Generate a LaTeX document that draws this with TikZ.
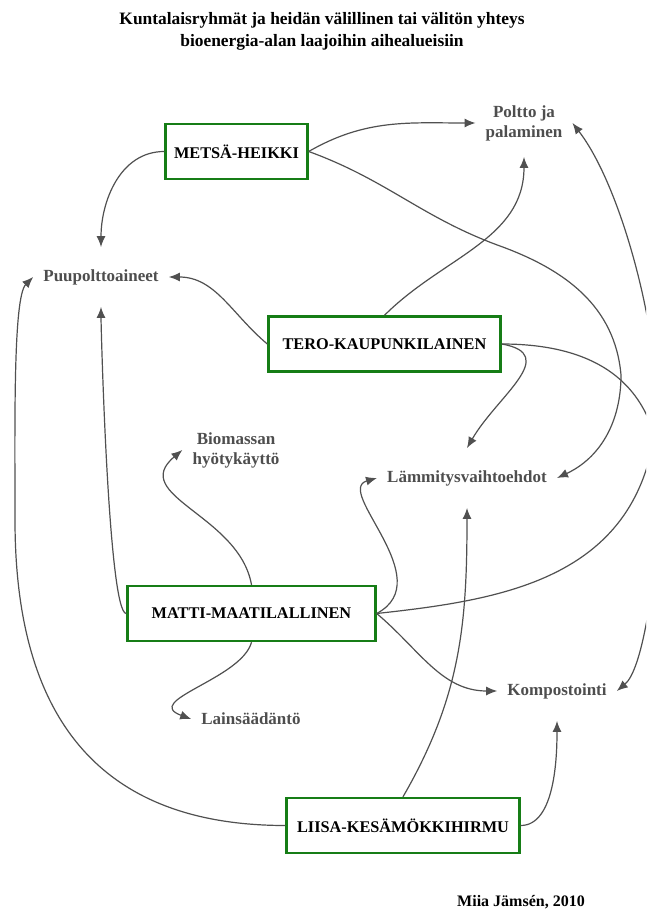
\documentclass[tikz,border=0pt]{standalone}
\usepackage{fontspec}
\setmainfont{Liberation Serif}
\usetikzlibrary{arrows.meta}
\definecolor{boxgreen}{RGB}{22,125,22}
\definecolor{topicgray}{RGB}{78,78,78}
\definecolor{linegray}{RGB}{80,80,80}

\begin{document}
\begin{tikzpicture}[
	x=1pt, y=1pt,
	group/.style={ draw=boxgreen, line width=2.4pt, minimum height=55pt, inner sep=0pt, font=\fontsize{16.3}{19}\selectfont\bfseries },
	topic/.style={ text=topicgray, align=center, inner xsep=10pt, inner ysep=22pt, font=\fontsize{17}{20}\selectfont\bfseries },
	link/.style={ draw=linegray, line width=1.2pt, -{Latex[length=11pt,width=9pt]} }
]

\useasboundingbox (0,0) rectangle (646,-912);
\clip (0,0) rectangle (646,-912);

\node at (322,-31) (title) [align=center, font=\fontsize{17.4}{22}\selectfont\bfseries] {Kuntalaisryhmät ja heidän välillinen tai välitön yhteys\\bioenergia-alan laajoihin aihealueisiin};

\node at (236.5,-151.5) (metsa) [group, minimum width=142pt] {METSÄ-HEIKKI};
\node at (384.5,-344) (tero) [group, minimum width=232pt] {TERO-KAUPUNKILAINEN};
\node at (251.5,-613.5) (matti) [group, minimum width=248pt] {MATTI-MAATILALLINEN};
\node at (403,-825.5) (liisa) [group, minimum width=233pt] {LIISA-KESÄMÖKKIHIRMU};

\node at (524,-123) (poltto) [topic, inner ysep=16pt] {Poltto ja\\palaminen};
\node at (101,-277) (puu) [topic] {Puupolttoaineet};
\node at (236,-450) (bio) [topic] {Biomassan\\hyötykäyttö};
\node at (467,-478) (lammitys) [topic] {Lämmitysvaihtoehdot};
\node at (557,-691) (kompo) [topic] {Kompostointi};
\node at (251,-719) (laki) [topic] {Lainsäädäntö};

\node at (521,-902) (credit) [font=\fontsize{16}{19}\selectfont\bfseries] {Miia Jämsén, 2010};

% metsa-heikki
\draw[link] (metsa.west) to[out=180,in=90] (puu.north);
\draw[link] (metsa.east) to[out=30,in=180] (poltto.west);
\draw[link] (metsa.east) to[out=-20,in=160] (500,-246) to[out=-20,in=95] (621,-375) to[out=-90,in=25] (lammitys.east);

% tero-kaupunkilainen
\draw[link] (tero.north) to[out=45,in=-90] (poltto.south);
\draw[link] (tero.west) to[out=140,in=0] (puu.east);
\draw[link] (tero.east) to[out=-10,in=60,looseness=1.4] (lammitys.north);
\draw[link] (tero.east) .. controls (610,-344) and (672,-395) .. (660,-520) .. controls (653,-592) and (642,-670) .. (kompo.east);

% matti-maatilallinen
\draw[link] (matti.west) to[out=180,in=-90,looseness=0.15] (puu.south);
\draw[link] (matti.north) to[out=100,in=220,looseness=1.2] (bio.west);
\draw[link] (matti.south) to[out=-105,in=160,in looseness=1.4] (laki.west);
\draw[link] (matti.east) to[out=28,in=196,out looseness=1.35,in looseness=0.85] (lammitys.west);
\draw[link] (matti.east) to[out=-40,in=180] (kompo.west);
\draw[link] (matti.east) .. controls (500,-600) and (635,-580) .. (655,-430) .. controls (665,-355) and (625,-191) .. (poltto.east);

% liisa-kesamokkihirmu
\draw[link] (liisa.west) to[out=180,in=-90,looseness=1.2] (15,-520) to[out=90,in=225,in looseness=0.3] (puu.west);
\draw[link] (liisa.north) to[out=60,in=-90] (lammitys.south);
\draw[link] (liisa.east) to[out=0,in=-90,looseness=0.8] (kompo.south);

\end{tikzpicture}
\end{document}
